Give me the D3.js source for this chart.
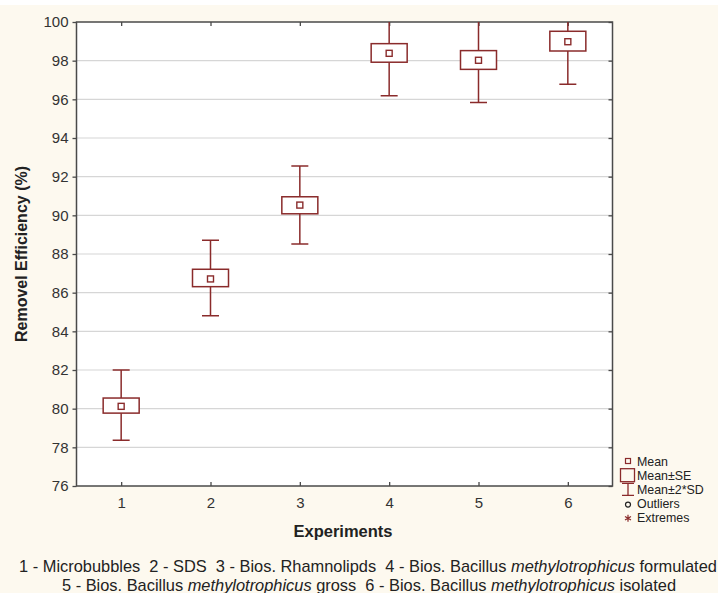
<!DOCTYPE html>
<html><head><meta charset="utf-8">
<script src="https://cdn.jsdelivr.net/npm/d3@7"></script>
<style>html,body{margin:0;padding:0;background:#fdf9ef;}svg{display:block;}</style>
</head><body>
<script>
const experiments = [1, 2, 3, 4, 5, 6];
const means = [80.12, 86.71, 90.53, 98.38, 98.02, 98.98];
const seLow = [79.77, 86.31, 90.08, 97.92, 97.55, 98.50];
const seHigh = [80.55, 87.21, 90.96, 98.88, 98.52, 99.52];
const sdLow = [78.36, 84.81, 88.52, 96.19, 95.83, 96.78];
const sdHigh = [82.00, 88.71, 92.55, 100.57, 100.21, 101.18];
const yTicks = [76, 78, 80, 82, 84, 86, 88, 90, 92, 94, 96, 98, 100];
const legendLabels = ["Mean", "Mean±SE", "Mean±2*SD", "Outliers", "Extremes"];

const W = 718, H = 593;
const red = "#8a2b2b";
const font = "'Liberation Sans', Arial, sans-serif";
const svg = d3.select("body").append("svg").attr("width", W).attr("height", H)
  .style("font-family", font);

svg.append("rect").attr("width", W).attr("height", H).attr("fill", "#fdf9ef");
svg.append("rect").attr("width", W).attr("height", 5).attr("fill", "#ffffff");

const L = 76.5, R = 612.5, T = 22, B = 486;
const x = d3.scaleLinear().domain([0.5, 6.5]).range([L, R]);
const y = d3.scaleLinear().domain([76, 100]).range([B, T]);

svg.append("rect").attr("x", L).attr("y", T).attr("width", R - L).attr("height", B - T).attr("fill", "#ffffff");

// gridlines
svg.append("g").selectAll("line").data(yTicks.filter(d => d > 76 && d < 100)).join("line")
  .attr("x1", L).attr("x2", R).attr("y1", d => y(d)).attr("y2", d => y(d))
  .attr("stroke", "#d6d6d6").attr("stroke-width", 1.2);

svg.append("defs").append("clipPath").attr("id", "clip")
  .append("rect").attr("x", L).attr("y", T).attr("width", R - L).attr("height", B - T);

const axisColor = "#4a4a4a";
// axes
svg.append("g").attr("transform", `translate(${L},0)`)
  .call(d3.axisLeft(y).tickValues(yTicks).tickSize(4).tickPadding(4));
svg.append("g").attr("transform", `translate(${R},0)`)
  .call(d3.axisLeft(y).tickValues(yTicks).tickSize(4).tickFormat(""));
svg.append("g").attr("transform", `translate(0,${B})`)
  .call(d3.axisTop(x).tickValues(experiments).tickSize(4).tickFormat(""));
svg.append("g").attr("transform", `translate(0,${T})`)
  .call(d3.axisBottom(x).tickValues(experiments).tickSize(4).tickFormat(""));
svg.append("g").attr("transform", `translate(0,${B})`)
  .call(d3.axisBottom(x).tickValues(experiments).tickSize(0).tickPadding(11).tickFormat(d3.format("d")))
  .call(g => g.select(".domain").remove());
svg.selectAll(".domain").attr("stroke", "none");
svg.selectAll(".tick line").attr("stroke", axisColor).attr("stroke-width", 1.3);
svg.selectAll(".tick text").attr("fill", "#333").style("font-size", "15px").style("font-family", font);
svg.append("rect").attr("x", L).attr("y", T).attr("width", R - L).attr("height", B - T)
  .attr("fill", "none").attr("stroke", axisColor).attr("stroke-width", 1.5);

// boxes
const g = svg.append("g").attr("clip-path", "url(#clip)");
const boxHalf = 18, capHalf = 8.5, mk = 6;
experiments.forEach((e, i) => {
  const cx = x(e);
  g.append("line").attr("x1", cx).attr("x2", cx).attr("y1", y(sdHigh[i])).attr("y2", y(seHigh[i]))
    .attr("stroke", red).attr("stroke-width", 1.5);
  g.append("line").attr("x1", cx).attr("x2", cx).attr("y1", y(seLow[i])).attr("y2", y(sdLow[i]))
    .attr("stroke", red).attr("stroke-width", 1.5);
  [sdHigh[i], sdLow[i]].forEach(v => {
    g.append("line").attr("x1", cx - capHalf).attr("x2", cx + capHalf).attr("y1", y(v)).attr("y2", y(v))
      .attr("stroke", red).attr("stroke-width", 1.5);
  });
  g.append("rect").attr("x", cx - boxHalf).attr("y", y(seHigh[i])).attr("width", boxHalf * 2)
    .attr("height", y(seLow[i]) - y(seHigh[i])).attr("fill", "#fff").attr("stroke", red).attr("stroke-width", 1.5);
  g.append("rect").attr("x", cx - mk / 2).attr("y", y(means[i]) - mk / 2).attr("width", mk).attr("height", mk)
    .attr("fill", "#fff").attr("stroke", red).attr("stroke-width", 1.4);
});

// axis titles
svg.append("text").attr("x", 343).attr("y", 537).attr("text-anchor", "middle")
  .style("font-size", "16.5px").style("font-weight", "bold").attr("fill", "#222").text("Experiments");
svg.append("text").attr("transform", "translate(27,254) rotate(-90)").attr("text-anchor", "middle")
  .style("font-size", "16px").style("font-weight", "bold").attr("fill", "#222").text("Removel Efficiency (%)");

// legend
const lg = svg.append("g");
const lx = 637, ly0 = 461, ls = 14.2;
legendLabels.forEach((t, i) => {
  lg.append("text").attr("x", lx).attr("y", ly0 + i * ls + 4.5).style("font-size", "12.4px").attr("fill", "#222").text(t);
});
const sy = i => ly0 + i * ls;
lg.append("rect").attr("x", 625.5).attr("y", sy(0) - 2.5).attr("width", 5).attr("height", 5).attr("fill", "none").attr("stroke", red).attr("stroke-width", 1.2);
lg.append("rect").attr("x", 620.5).attr("y", sy(1) - 6.5).attr("width", 14).attr("height", 13).attr("fill", "none").attr("stroke", red).attr("stroke-width", 1.3);
lg.append("path").attr("d", `M622,${sy(2) - 6}H634M628,${sy(2) - 6}V${sy(2) + 6}M622,${sy(2) + 6}H634`).attr("fill", "none").attr("stroke", red).attr("stroke-width", 1.3);
lg.append("circle").attr("cx", 628).attr("cy", sy(3) + 1).attr("r", 2.5).attr("fill", "none").attr("stroke", "#222").attr("stroke-width", 1.2);
lg.append("path").attr("d", `M628,${sy(4) - 3}V${sy(4) + 4}M625,${sy(4) - 1.3}L631,${sy(4) + 2.3}M625,${sy(4) + 2.3}L631,${sy(4) - 1.3}`).attr("fill", "none").attr("stroke", red).attr("stroke-width", 1.2);

// caption
const cap = svg.append("g").style("font-size", "16.4px").attr("fill", "#222");
const t1 = cap.append("text").attr("x", 368).attr("y", 571.5).attr("text-anchor", "middle").style("white-space", "pre");
t1.append("tspan").text("1 - Microbubbles  2 - SDS  3 - Bios. Rhamnolipds  4 - Bios. Bacillus ");
t1.append("tspan").style("font-style", "italic").text("methylotrophicus");
t1.append("tspan").text(" formulated");
const t2 = cap.append("text").attr("x", 369).attr("y", 590.5).attr("text-anchor", "middle").style("white-space", "pre");
t2.append("tspan").text("5 - Bios. Bacillus ");
t2.append("tspan").style("font-style", "italic").text("methylotrophicus");
t2.append("tspan").text(" gross  6 - Bios. Bacillus ");
t2.append("tspan").style("font-style", "italic").text("methylotrophicus");
t2.append("tspan").text(" isolated");
</script>
</body></html>
